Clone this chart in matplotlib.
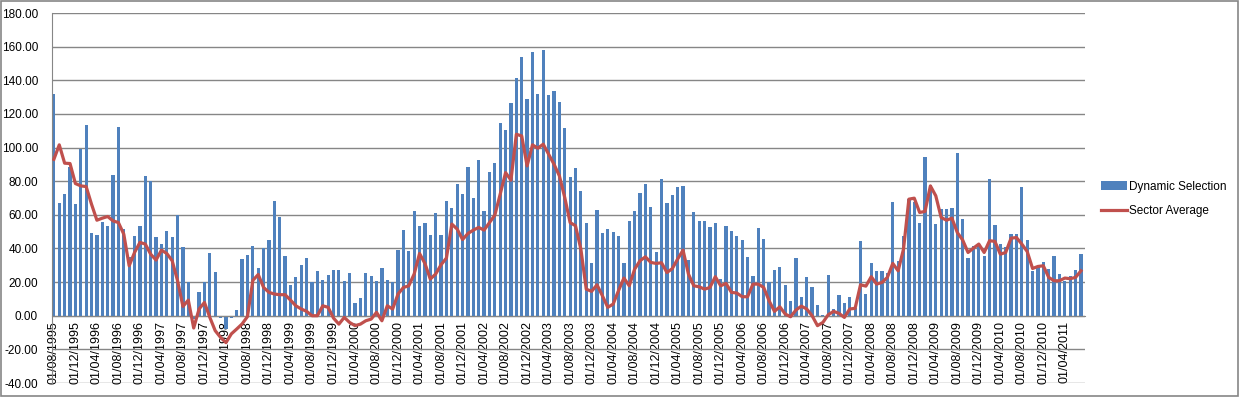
import matplotlib
matplotlib.use('Agg')
import matplotlib.pyplot as plt
import matplotlib.patches as mpatches
import numpy as np
import pandas as pd

# monthly values, 08/1995 .. 07/2011
dynamic_selection = [
    132.1, 67.1, 72.5, 88.5, 66.5, 99.4, 113.5, 49.3, 48.1, 55.8,
    53.5, 83.8, 112.3, 51.7, 35.0, 47.5, 53.5, 83.2, 80.2, 46.9,
    42.8, 50.5, 46.9, 60.0, 41.0, 20.2, -2.0, 14.3, 20.2, 37.4,
    26.1, -1.2, -8.0, -1.5, 3.6, 33.9, 36.2, 41.6, 28.5, 40.4,
    45.1, 68.3, 58.8, 35.6, 18.4, 23.2, 30.3, 34.5, 20.2, 26.7,
    21.4, 24.4, 27.3, 27.3, 20.8, 25.5, 7.7, 10.7, 25.5, 23.8,
    20.8, 28.5, 21.4, 20.2, 39.2, 51.1, 38.6, 62.4, 53.5, 55.2,
    48.1, 61.2, 48.1, 68.3, 64.2, 78.4, 72.5, 88.5, 70.1, 92.7,
    62.4, 85.5, 90.9, 114.7, 110.5, 126.5, 141.4, 153.9, 128.9, 156.8,
    131.9, 158.0, 131.3, 133.7, 127.1, 111.7, 82.6, 87.9, 74.3, 55.2,
    31.5, 63.0, 49.3, 51.7, 49.9, 47.5, 31.5, 56.4, 62.4, 73.1,
    78.4, 64.8, 38.0, 81.4, 67.1, 71.9, 76.6, 77.2, 33.3, 61.8,
    56.4, 56.4, 52.9, 55.2, 22.0, 53.5, 50.5, 47.5, 45.1, 35.0,
    23.8, 52.3, 45.7, 20.2, 27.3, 29.1, 18.4, 8.9, 34.5, 11.3,
    23.2, 17.2, 6.5, 0.3, 24.4, 4.2, 12.5, 7.7, 11.3, 4.8,
    44.6, 13.1, 31.5, 26.7, 26.7, 25.5, 67.7, 32.7, 47.5, 69.5,
    67.7, 55.2, 94.5, 77.8, 54.7, 63.6, 63.6, 64.2, 96.8, 57.6,
    34.5, 41.6, 41.6, 35.6, 81.4, 54.1, 42.8, 41.0, 48.7, 48.7,
    76.6, 45.1, 26.7, 29.1, 32.1, 27.9, 35.6, 25.0, 20.8, 23.8,
    27.3, 36.8,
]

sector_average = [
    93.0, 101.6, 90.7, 90.5, 78.6, 77.2, 76.8, 66.3, 56.8, 58.0,
    59.0, 56.4, 55.4, 48.5, 29.7, 37.6, 43.6, 42.6, 36.6, 33.1,
    39.0, 37.0, 32.7, 20.8, 5.5, 9.3, -7.3, 4.0, 7.9, -1.0,
    -8.9, -12.9, -16.0, -10.8, -7.9, -4.9, -0.5, 21.0, 24.5, 16.8,
    13.9, 12.9, 12.5, 12.5, 9.3, 5.9, 4.0, 2.6, 0.0, 0.0,
    5.9, 5.0, -1.4, -5.0, -1.0, -4.0, -5.9, -5.0, -3.0, -2.0,
    2.0, -3.0, 5.9, 4.0, 12.9, 16.8, 17.8, 24.8, 37.0, 31.1,
    21.8, 24.8, 30.3, 34.3, 54.5, 51.5, 45.3, 48.9, 50.9, 52.5,
    50.9, 55.4, 59.8, 72.3, 85.1, 80.6, 107.9, 106.9, 89.1, 101.6,
    99.6, 102.0, 96.0, 90.1, 83.2, 70.3, 55.4, 53.5, 39.6, 15.8,
    14.5, 18.4, 11.9, 5.0, 6.9, 14.9, 22.4, 17.8, 27.7, 32.7,
    35.0, 31.7, 31.1, 31.5, 25.7, 28.0, 33.7, 39.0, 24.8, 17.8,
    17.2, 15.8, 16.8, 23.2, 17.8, 19.2, 13.9, 13.5, 11.3, 11.3,
    18.8, 18.8, 16.8, 8.9, 2.6, 5.3, 1.0, -0.6, 3.4, 5.7,
    4.0, 0.0, -5.9, -4.0, 0.6, 2.6, 1.4, -1.0, 4.0, 4.4,
    18.4, 17.6, 23.2, 18.8, 19.8, 22.8, 31.1, 26.7, 39.6, 69.3,
    69.9, 61.4, 62.0, 77.2, 71.3, 58.4, 56.8, 58.0, 49.5, 45.0,
    37.6, 40.2, 42.6, 37.6, 44.6, 44.2, 36.6, 37.6, 46.1, 46.5,
    42.6, 38.2, 28.1, 29.3, 29.7, 22.8, 20.8, 20.8, 22.4, 22.0,
    22.8, 26.7,
]

# category labels (first of each month)
months = pd.date_range('1995-08-01', periods=len(dynamic_selection), freq='MS')
month_labels = [m.strftime('%d/%m/%Y') for m in months]

plt.rcParams['font.family'] = ['Liberation Sans', 'DejaVu Sans']

# create figure, plot area placed like the excel chart
fig = plt.figure(figsize=(12.39, 3.97), dpi=100)
ax = fig.add_axes([52 / 1239, 1 - 383 / 397, (1085 - 52) / 1239, (383 - 13) / 397])

x = np.arange(len(dynamic_selection))
bars = ax.bar(x, dynamic_selection, width=0.6, color='#4F81BD', label='Dynamic Selection', zorder=2)
line, = ax.plot(x, sector_average, color='#C0504D', lw=2.3, solid_joinstyle='round',
                label='Sector Average', zorder=3)

# axes
ax.set_xlim(-0.35, len(x) - 0.25)
ax.set_ylim(-40, 180)
ax.set_yticks(np.arange(-40, 181, 20))
ax.yaxis.set_major_formatter(lambda v, p: f'{v:.2f}')
ax.grid(axis='y', color='#868686', lw=1)
ax.set_axisbelow(True)

ax.spines['bottom'].set_position(('data', 0))
ax.spines[['top', 'right']].set_visible(False)
ax.spines['left'].set_color('#868686')
ax.spines['bottom'].set_color('#868686')

ax.set_xticks(x[::4])
ax.set_xticklabels(month_labels[::4], rotation=90, fontsize=9)
ax.tick_params(axis='x', length=0, pad=4)
ax.tick_params(axis='y', length=0, pad=10, labelsize=8.5)

# legend on the right
fig.legend([bars, line], ['Dynamic Selection', 'Sector Average'], loc='center left',
           bbox_to_anchor=(1090 / 1239, 1 - 199 / 397), frameon=False,
           fontsize=8.5, handlelength=2.2, handletextpad=0.2, labelspacing=1.1)

# chart border
fig.add_artist(mpatches.Rectangle((0.0008, 0.0013), 0.9984, 0.9974, transform=fig.transFigure,
                                  fill=False, edgecolor='#868686', lw=1.2))

fig.savefig('out.png', dpi=100)
